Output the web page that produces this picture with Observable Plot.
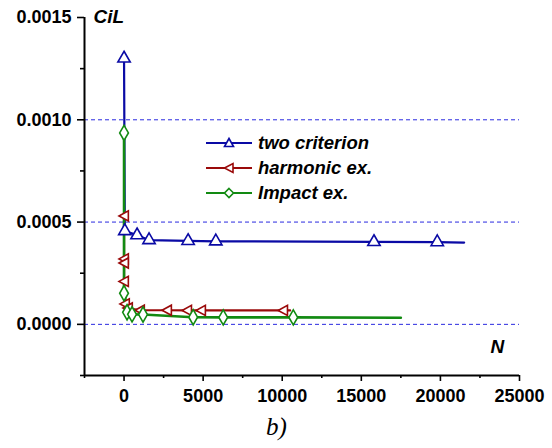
<!DOCTYPE html>
<html><head><meta charset="utf-8">
<script src="https://cdn.jsdelivr.net/npm/d3@7"></script>
<script src="https://cdn.jsdelivr.net/npm/@observablehq/plot@0.6"></script>
<style>
body{margin:0;background:#fff;font-family:"Liberation Sans",Arial,sans-serif;}
#wrap{position:relative;width:552px;height:448px;}
#legend{position:absolute;left:206px;top:130px;font:italic bold 18.5px "Liberation Sans",Arial,sans-serif;}
#legend div{display:flex;align-items:center;height:25px;}
#legend svg{margin-right:6px;}
#cap{position:absolute;left:266px;top:413px;font:italic 25px "Liberation Serif","Times New Roman",serif;}
</style>
</head><body>
<div id="wrap"><div id="chart"></div><div id="legend"></div><div id="cap">b)</div></div>
<script>
// ---- data ----
const seriesNames = ["two criterion", "harmonic ex.", "Impact ex."];
const seriesColors = ["#0a0aa5", "#9a0a0a", "#128a12"];

const twoN   = [0, 50, 823, 1580, 4050, 5800, 15800, 19800, 21500];
const twoC   = [0.00130, 0.000456, 0.000436, 0.000412, 0.000408, 0.000406, 0.000403, 0.000402, 0.000400];
const twoMark= [1, 1, 1, 1, 1, 1, 1, 1, 0];

const harN   = [0, 0, 0, 0, 0, 60, 250, 1010, 2720, 3990, 4870, 10060, 10500];
const harC   = [0.00053, 0.000320, 0.000300, 0.000210, 0.000180, 0.000100, 0.000080, 0.000069, 0.000069, 0.000068, 0.000068, 0.000068, 0.000068];
const harMark= [1, 1, 1, 1, 0, 1, 1, 1, 1, 1, 1, 1, 0];

const impN   = [0, 0, 50, 190, 506, 1200, 4370, 6270, 10700, 17500];
const impC   = [0.000936, 0.000152, 0.000145, 0.000059, 0.000049, 0.000048, 0.000035, 0.000034, 0.000034, 0.000032];
const impMark= [1, 1, 0, 1, 1, 1, 1, 1, 1, 0];

const xMajor = [0, 5000, 10000, 15000, 20000, 25000];
const xMinor = [-2500, 2500, 7500, 12500, 17500, 22500];
const yMajor = [0, 0.0005, 0.0010, 0.0015];
const yMinor = [-0.00025, 0.00025, 0.00075, 0.00125];
const gridY  = [0, 0.0005, 0.0010];
const xDomain = [-2500, 25000];
const yDomain = [-0.00025, 0.0015];

// ---- build ----
const triLeft = {draw(ctx, size){const r=Math.sqrt(size)*0.62; ctx.moveTo(-r,0); ctx.lineTo(r*0.85,-r); ctx.lineTo(r*0.85,r); ctx.closePath();}};
const symbols = ["triangle", triLeft, "diamond"];
const raw = [[twoN,twoC,twoMark],[harN,harC,harMark],[impN,impC,impMark]];
const series = raw.map(([n,c,m],i)=>n.map((v,j)=>({N:v,C:c[j],mark:m[j],s:i})));

const marks = [
  Plot.ruleY(gridY, {stroke:"#2a2ae0", strokeDasharray:"4,3", strokeWidth:1}),
  Plot.ruleX([xDomain[0]], {stroke:"#000", strokeWidth:2}),
  Plot.ruleY([yDomain[0]], {stroke:"#000", strokeWidth:2}),
  Plot.axisY(yMajor, {tickSize:7, tickPadding:6, tickFormat:d3.format(".4f"), strokeWidth:1.6, label:null}),
  Plot.axisY(yMinor, {tickSize:4, tickFormat:()=>"", strokeWidth:1.6, label:null}),
  Plot.axisX(xMajor, {tickSize:6, tickPadding:8, tickFormat:d3.format("d"), strokeWidth:1.6, label:null}),
  Plot.axisX(xMinor, {tickSize:3, tickFormat:()=>"", strokeWidth:1.6, label:null}),
];
series.forEach((d,i)=>{
  marks.push(Plot.line(d, {x:"N", y:"C", stroke:seriesColors[i], strokeWidth:i===2?2.6:2.2}));
});
series.forEach((d,i)=>{
  marks.push(Plot.dot(d.filter(p=>p.mark), {x:"N", y:"C", stroke:seriesColors[i], fill:"#fff", strokeWidth:1.6, symbol:()=>symbols[i], r:4.6}));
});
marks.push(Plot.text(["CiL"], {frameAnchor:"top-left", dx:9, dy:-8, text:d=>d, textAnchor:"start"}));
marks.push(Plot.text(["N"], {frameAnchor:"bottom-right", dx:-29, dy:-23, text:d=>d, textAnchor:"start"}));

const chart = Plot.plot({
  width:552, height:410,
  marginLeft:84, marginRight:33, marginTop:17, marginBottom:35,
  x:{domain:xDomain},
  y:{domain:yDomain},
  style:{fontFamily:"'Liberation Sans', Arial, sans-serif", color:"#000", background:"#fff", overflow:"visible"},
  marks
});
chart.querySelectorAll("text").forEach(t=>{
  t.style.fontFamily = "'Liberation Sans', Arial, sans-serif";
  t.style.fontWeight = "bold";
  t.style.fontSize = "18px";
  if (t.textContent === "CiL" || t.textContent === "N") { t.style.fontStyle = "italic"; t.style.fontSize = "19px"; }
});
document.getElementById("chart").appendChild(chart);

// legend
const leg = document.getElementById("legend");
seriesNames.forEach((name,i)=>{
  const row = document.createElement("div");
  const ns="http://www.w3.org/2000/svg";
  const s = document.createElementNS(ns,"svg"); s.setAttribute("width","46"); s.setAttribute("height","14");
  const l = document.createElementNS(ns,"line"); l.setAttribute("x1","0"); l.setAttribute("x2","46"); l.setAttribute("y1","7"); l.setAttribute("y2","7");
  l.setAttribute("stroke",seriesColors[i]); l.setAttribute("stroke-width","2.2"); s.appendChild(l);
  const p = document.createElementNS(ns,"path");
  const paths = ["M23,2.5L27.5,10.5L18.5,10.5Z","M18.5,7L27,2.5L27,11.5Z","M23,2.5L27.5,7L23,11.5L18.5,7Z"];
  p.setAttribute("d",paths[i]); p.setAttribute("fill","#fff"); p.setAttribute("stroke",seriesColors[i]); p.setAttribute("stroke-width","1.6");
  s.appendChild(p);
  row.appendChild(s);
  const t = document.createElement("span"); t.textContent = name; row.appendChild(t);
  leg.appendChild(row);
});
</script>
</body></html>
